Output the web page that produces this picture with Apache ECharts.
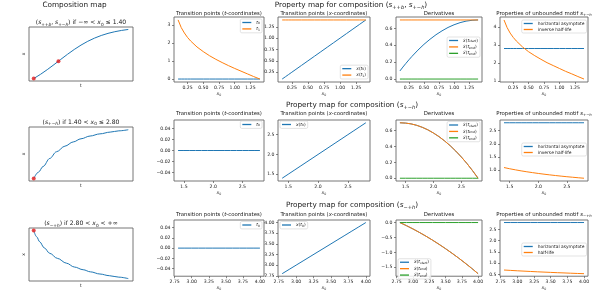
<!DOCTYPE html>
<html><head><meta charset="utf-8">
<script src="https://cdn.jsdelivr.net/npm/echarts@6/dist/echarts.min.js"></script>
<style>html,body{margin:0;padding:0;background:#fff}#c{width:598px;height:292px}</style>
</head><body><div id="c"></div>
<script>
// ---------------- DATA ----------------
// Composition map (column 1), row 1: logistic trajectory with start and inflection points
const mapT1 = [0, 0.3, 0.6, 0.9, 1.2, 1.5, 1.8, 2.1, 2.4, 2.7, 3.0, 3.3, 3.6, 3.9, 4.2];
const mapX1 = [0.700, 0.869, 1.058, 1.261, 1.471, 1.677, 1.872, 2.048, 2.201, 2.330, 2.436, 2.521, 2.588, 2.640, 2.679];
const mapDotsT1 = [0, 1.099];
const mapDotsX1 = [0.700, 1.400];
// row 2 (normalised)
const mapT2 = [0, 0.05, 0.099, 0.17, 0.241, 0.33, 0.418, 0.5, 0.596, 0.7, 0.809, 0.9, 1.0];
const mapX2 = [0, 0.13, 0.246, 0.41, 0.546, 0.66, 0.746, 0.81, 0.866, 0.91, 0.946, 0.972, 0.994];
const mapDotsT2 = [0];
const mapDotsX2 = [0];
// row 3 (normalised)
const mapT3 = [0, 0.03, 0.064, 0.11, 0.17, 0.25, 0.346, 0.43, 0.523, 0.6, 0.7, 0.8, 0.9, 1.0];
const mapX3 = [1, 0.87, 0.762, 0.64, 0.524, 0.42, 0.32, 0.24, 0.184, 0.14, 0.095, 0.06, 0.03, 0];
const mapDotsT3 = [0];
const mapDotsX3 = [1];

// Row 1 : x0 in (−∞, 1.40]
const x0Row1 = [0.10,0.15,0.20,0.25,0.30,0.40,0.50,0.60,0.70,0.80,0.90,1.00,1.10,1.20,1.30,1.40];
const t0Row1 = [0,0,0,0,0,0,0,0,0,0,0,0,0,0,0,0];
const t1Row1 = [3.30,2.87,2.57,2.32,2.12,1.79,1.53,1.30,1.10,0.92,0.75,0.59,0.44,0.29,0.14,0.00];
const xt0Row1 = [0.10,0.15,0.20,0.25,0.30,0.40,0.50,0.60,0.70,0.80,0.90,1.00,1.10,1.20,1.30,1.40];
const xt1Row1 = [1.40,1.40,1.40,1.40,1.40,1.40,1.40,1.40,1.40,1.40,1.40,1.40,1.40,1.40,1.40,1.40];
const dStartRow1 = [0.096,0.142,0.186,0.228,0.268,0.343,0.411,0.471,0.525,0.571,0.611,0.643,0.668,0.686,0.696,0.700];
const dEndRow1 = [0.70,0.70,0.70,0.70,0.70,0.70,0.70,0.70,0.70,0.70,0.70,0.70,0.70,0.70,0.70,0.70];
const ddEndRow1 = [0,0,0,0,0,0,0,0,0,0,0,0,0,0,0,0];
const asymRow1 = [2.8,2.8,2.8,2.8,2.8,2.8,2.8,2.8,2.8,2.8,2.8,2.8,2.8,2.8,2.8,2.8];
const invHalfRow1 = [4.39,3.97,3.66,3.42,3.22,2.89,2.62,2.40,2.20,2.01,1.85,1.69,1.53,1.39,1.24,1.10];

// Row 2 : x0 in (1.40, 2.80]
const x0Row2 = [1.40,1.50,1.60,1.70,1.80,1.90,2.00,2.10,2.20,2.30,2.40,2.50,2.60,2.70,2.80];
const t0Row2 = [0,0,0,0,0,0,0,0,0,0,0,0,0,0,0];
const xt0Row2 = [1.40,1.50,1.60,1.70,1.80,1.90,2.00,2.10,2.20,2.30,2.40,2.50,2.60,2.70,2.80];
const dStartRow2 = [0.700,0.696,0.686,0.668,0.643,0.611,0.571,0.525,0.471,0.411,0.343,0.268,0.186,0.096,0.000];
const dEndRow2 = [0.700,0.696,0.686,0.668,0.643,0.611,0.571,0.525,0.471,0.411,0.343,0.268,0.186,0.096,0.000];
const ddEndRow2 = [0,0,0,0,0,0,0,0,0,0,0,0,0,0,0];
const asymRow2 = [2.8,2.8,2.8,2.8,2.8,2.8,2.8,2.8,2.8,2.8,2.8,2.8,2.8,2.8,2.8];
const invHalfRow2 = [1.099,1.053,1.012,0.973,0.938,0.906,0.875,0.847,0.821,0.796,0.773,0.751,0.731,0.711,0.693];

// Row 3 : x0 in (2.80, +∞)
const x0Row3 = [2.80,2.90,3.00,3.10,3.20,3.30,3.40,3.50,3.60,3.70,3.80,3.90,4.00];
const t0Row3 = [0,0,0,0,0,0,0,0,0,0,0,0,0];
const xt0Row3 = [2.80,2.90,3.00,3.10,3.20,3.30,3.40,3.50,3.60,3.70,3.80,3.90,4.00];
const dStartRow3 = [0.000,-0.104,-0.214,-0.332,-0.457,-0.589,-0.729,-0.875,-1.029,-1.189,-1.357,-1.532,-1.714];
const dEndRow3 = [0.000,-0.104,-0.214,-0.332,-0.457,-0.589,-0.729,-0.875,-1.029,-1.189,-1.357,-1.532,-1.714];
const ddEndRow3 = [0,0,0,0,0,0,0,0,0,0,0,0,0];
const asymRow3 = [2.8,2.8,2.8,2.8,2.8,2.8,2.8,2.8,2.8,2.8,2.8,2.8,2.8];
const halfRow3 = [0.693,0.676,0.659,0.644,0.629,0.614,0.601,0.588,0.575,0.564,0.552,0.541,0.531];

// tick values
const xTicksRow1 = [0.25,0.50,0.75,1.00,1.25];
const xTicksRow2 = [1.5,2.0,2.5];
const xTicksRow3 = [2.75,3.00,3.25,3.50,3.75,4.00];
const yTicksTRow1 = [0,1,2,3];
const yTicksXRow1 = [0.25,0.50,0.75,1.00,1.25];
const yTicksDRow1 = [0.0,0.2,0.4,0.6];
const yTicksPRow1 = [1,2,3,4];
const yTicksZero = [-0.04,-0.02,0.00,0.02,0.04];
const yTicksXRow2 = [1.5,2.0,2.5];
const yTicksDRow2 = [0.0,0.2,0.4,0.6];
const yTicksPRow2 = [1.0,1.5,2.0,2.5];
const yTicksXRow3 = [2.75,3.00,3.25,3.50,3.75,4.00];
const yTicksDRow3 = [-1.5,-1.0,-0.5,0.0];
const yTicksPRow3 = [0.5,1.0,1.5,2.0,2.5];

// ---------------- STYLE / LAYOUT ----------------
const FONT = 'DejaVu Sans';
const BLUE = '#1f77b4', ORANGE = '#ff7f0e', GREEN = '#2ca02c';
const TXT = '#1a1a1a';
function rich(f, lh) {
  const L = f * (lh || 1.25);
  return {
    n: {fontFamily: FONT, fontSize: f, color: TXT, lineHeight: L},
    i: {fontFamily: FONT, fontSize: f, fontStyle: 'italic', color: TXT, lineHeight: L},
    s: {fontFamily: FONT, fontSize: f * 0.7, color: TXT, lineHeight: L, verticalAlign: 'bottom'},
    si: {fontFamily: FONT, fontSize: f * 0.7, fontStyle: 'italic', color: TXT, lineHeight: L, verticalAlign: 'bottom'}
  };
}
const N = t => `{n|${t}}`, I = t => `{i|${t}}`, S = t => `{s|${t}}`, SI = t => `{si|${t}}`;
const fmt = (v, d) => v.toFixed(d).replace('-', '\u2212');

const grids = [
  {left: 29, top: 27, width: 104, height: 54},
  {left: 174, top: 17, width: 90, height: 65},
  {left: 278, top: 17, width: 92, height: 65},
  {left: 396, top: 17, width: 86, height: 65},
  {left: 500, top: 17, width: 88, height: 65},
  {left: 29, top: 127, width: 104, height: 54},
  {left: 174, top: 120, width: 90, height: 61},
  {left: 278, top: 120, width: 92, height: 61},
  {left: 396, top: 120, width: 86, height: 61},
  {left: 500, top: 120, width: 88, height: 61},
  {left: 29, top: 228, width: 104, height: 53},
  {left: 174, top: 220, width: 90, height: 61},
  {left: 278, top: 220, width: 92, height: 61},
  {left: 396, top: 220, width: 86, height: 61},
  {left: 500, top: 220, width: 88, height: 61}
].map(g => Object.assign({show: true, borderColor: '#666', borderWidth: 0.9, backgroundColor: 'transparent', containLabel: false}, g));

const X0NAME = I('x') + S('0');
function axX(gi, min, max, ticks, dec, name) {
  return {
    type: 'value', gridIndex: gi, min, max, position: 'bottom',
    axisLine: {show: false, onZero: false}, splitLine: {show: false},
    axisTick: {show: !!ticks, length: 2, customValues: ticks || [], lineStyle: {color: '#555', width: 0.7}},
    axisLabel: {show: !!ticks, customValues: ticks || [], formatter: v => fmt(v, dec), fontSize: 4.6, fontFamily: FONT, color: '#222', margin: 3.5},
    name: name, nameLocation: 'middle', nameGap: ticks ? 7.5 : 2.5,
    nameTextStyle: {fontSize: 4.6, fontFamily: FONT, color: TXT, rich: rich(4.6), verticalAlign: 'top'}
  };
}
function axY(gi, min, max, ticks, dec, name) {
  return {
    type: 'value', gridIndex: gi, min, max, position: 'left',
    axisLine: {show: false, onZero: false}, splitLine: {show: false},
    axisTick: {show: !!ticks, length: 2, customValues: ticks || [], lineStyle: {color: '#555', width: 0.7}},
    axisLabel: {show: !!ticks, customValues: ticks || [], formatter: v => fmt(v, dec), fontSize: 4.6, fontFamily: FONT, color: '#222', margin: 3.5},
    name: name || '', nameLocation: 'middle', nameGap: 3, nameRotate: 90,
    nameTextStyle: {fontSize: 4.6, fontFamily: FONT, color: TXT}
  };
}

const xAxes = [
  axX(0, -0.21, 4.41, null, 0, 't'),
  axX(1, 0.035, 1.465, xTicksRow1, 2, X0NAME),
  axX(2, 0.035, 1.465, xTicksRow1, 2, X0NAME),
  axX(3, 0.035, 1.465, xTicksRow1, 2, X0NAME),
  axX(4, 0.035, 1.465, xTicksRow1, 2, X0NAME),
  axX(5, -0.05, 1.05, null, 0, 't'),
  axX(6, 1.33, 2.87, xTicksRow2, 1, X0NAME),
  axX(7, 1.33, 2.87, xTicksRow2, 1, X0NAME),
  axX(8, 1.33, 2.87, xTicksRow2, 1, X0NAME),
  axX(9, 1.33, 2.87, xTicksRow2, 1, X0NAME),
  axX(10, -0.05, 1.05, null, 0, 't'),
  axX(11, 2.74, 4.06, xTicksRow3, 2, X0NAME),
  axX(12, 2.74, 4.06, xTicksRow3, 2, X0NAME),
  axX(13, 2.74, 4.06, xTicksRow3, 2, X0NAME),
  axX(14, 2.74, 4.06, xTicksRow3, 2, X0NAME)
];
const yAxes = [
  axY(0, 0.601, 2.778, null, 0, 'x'),
  axY(1, -0.165, 3.461, yTicksTRow1, 0),
  axY(2, 0.035, 1.465, yTicksXRow1, 2),
  axY(3, -0.035, 0.735, yTicksDRow1, 1),
  axY(4, 0.935, 4.555, yTicksPRow1, 0),
  axY(5, -0.05, 1.05, null, 0, 'x'),
  axY(6, -0.055, 0.055, yTicksZero, 2),
  axY(7, 1.33, 2.87, yTicksXRow2, 1),
  axY(8, -0.035, 0.735, yTicksDRow2, 1),
  axY(9, 0.588, 2.905, yTicksPRow2, 1),
  axY(10, -0.05, 1.05, null, 0, 'x'),
  axY(11, -0.055, 0.055, yTicksZero, 2),
  axY(12, 2.74, 4.06, yTicksXRow3, 2),
  axY(13, -1.80, 0.0857, yTicksDRow3, 1),
  axY(14, 0.418, 2.913, yTicksPRow3, 1)
];

const zip = (a, b) => a.map((v, k) => [v, b[k]]);
function line(gi, name, xs, ys, color) {
  return {type: 'line', name, xAxisIndex: gi, yAxisIndex: gi, data: zip(xs, ys), symbol: 'none', showSymbol: false,
    lineStyle: {color, width: 1}, itemStyle: {color}, animation: false, silent: true, z: 3};
}
function smoothLine(gi, name, xs, ys, color) {
  const s = line(gi, name, xs, ys, color); s.smooth = 0.35; s.smoothMonotone = 'x'; return s;
}
function dots(gi, xs, ys) {
  return {type: 'scatter', xAxisIndex: gi, yAxisIndex: gi, data: zip(xs, ys), symbolSize: 4,
    itemStyle: {color: '#e41a1c'}, animation: false, silent: true, z: 5};
}

const series = [
  line(0, 'map1', mapT1, mapX1, BLUE), dots(0, mapDotsT1, mapDotsX1),
  line(1, 'r1t0', x0Row1, t0Row1, BLUE), line(1, 'r1t1', x0Row1, t1Row1, ORANGE),
  line(2, 'r1xt0', x0Row1, xt0Row1, BLUE), line(2, 'r1xt1', x0Row1, xt1Row1, ORANGE),
  line(3, 'r1ds', x0Row1, dStartRow1, BLUE), line(3, 'r1de', x0Row1, dEndRow1, ORANGE), line(3, 'r1dde', x0Row1, ddEndRow1, GREEN),
  line(4, 'r1asym', x0Row1, asymRow1, BLUE), line(4, 'r1inv', x0Row1, invHalfRow1, ORANGE),
  smoothLine(5, 'map2', mapT2, mapX2, BLUE), dots(5, mapDotsT2, mapDotsX2),
  line(6, 'r2t0', x0Row2, t0Row2, BLUE),
  line(7, 'r2xt0', x0Row2, xt0Row2, BLUE),
  line(8, 'r2ds', x0Row2, dStartRow2, BLUE), line(8, 'r2de', x0Row2, dEndRow2, ORANGE), line(8, 'r2dde', x0Row2, ddEndRow2, GREEN),
  line(9, 'r2asym', x0Row2, asymRow2, BLUE), line(9, 'r2inv', x0Row2, invHalfRow2, ORANGE),
  smoothLine(10, 'map3', mapT3, mapX3, BLUE), dots(10, mapDotsT3, mapDotsX3),
  line(11, 'r3t0', x0Row3, t0Row3, BLUE),
  line(12, 'r3xt0', x0Row3, xt0Row3, BLUE),
  line(13, 'r3ds', x0Row3, dStartRow3, BLUE), line(13, 'r3de', x0Row3, dEndRow3, ORANGE), line(13, 'r3dde', x0Row3, ddEndRow3, GREEN),
  line(14, 'r3asym', x0Row3, asymRow3, BLUE), line(14, 'r3half', x0Row3, halfRow3, ORANGE)
];

const XD = I('x\u0307'), XDD = I('x\u0308');
const LABELS = {
  r1t0: I('t') + S('0'), r1t1: I('t') + S('1'),
  r1xt0: I('x') + N('(') + I('t') + S('0') + N(')'), r1xt1: I('x') + N('(') + I('t') + S('1') + N(')'),
  r1ds: XD + N('(') + I('t') + SI('start') + N(')'), r1de: XD + N('(') + I('t') + SI('end') + N(')'), r1dde: XDD + N('(') + I('t') + SI('end') + N(')'),
  r1asym: N('horizontal asymptote'), r1inv: N('inverse half-life'),
  r2t0: I('t') + S('0'), r2xt0: I('x') + N('(') + I('t') + S('0') + N(')'),
  r2ds: XD + N('(') + I('t') + SI('start') + N(')'), r2de: XD + N('(') + I('t') + SI('end') + N(')'), r2dde: XDD + N('(') + I('t') + SI('end') + N(')'),
  r2asym: N('horizontal asymptote'), r2inv: N('inverse half-life'),
  r3t0: I('t') + S('0'), r3xt0: I('x') + N('(') + I('t') + S('0') + N(')'),
  r3ds: XD + N('(') + I('t') + SI('start') + N(')'), r3de: XD + N('(') + I('t') + SI('end') + N(')'), r3dde: XDD + N('(') + I('t') + SI('end') + N(')'),
  r3asym: N('horizontal asymptote'), r3half: N('half-life')
};
function legend(names, pos) {
  return Object.assign({
    orient: 'vertical', data: names, icon: 'rect', itemWidth: 9, itemHeight: 1.3, itemGap: 2,
    padding: [1.5, 2, 1.5, 2], backgroundColor: 'rgba(255,255,255,0.85)', borderColor: '#d0d0d0', borderWidth: 0.6, borderRadius: 1.5,
    selectedMode: false, formatter: n => LABELS[n],
    textStyle: {fontSize: 4.4, fontFamily: FONT, color: TXT, rich: rich(4.4, 1.1)}
  }, pos);
}
const legends = [
  legend(['r1t0', 'r1t1'], {right: 598 - 262, top: 19}),
  legend(['r1xt0', 'r1xt1'], {right: 598 - 368, bottom: 292 - 79}),
  legend(['r1ds', 'r1de', 'r1dde'], {right: 598 - 480, top: 37}),
  legend(['r1asym', 'r1inv'], {right: 598 - 586.5, top: 20}),
  legend(['r2t0'], {right: 598 - 262, top: 121}),
  legend(['r2xt0'], {left: 280, top: 121}),
  legend(['r2ds', 'r2de', 'r2dde'], {right: 598 - 480, top: 121.5}),
  legend(['r2asym', 'r2inv'], {right: 598 - 586.5, top: 143}),
  legend(['r3t0'], {right: 598 - 262, top: 221.5}),
  legend(['r3xt0'], {left: 280, top: 221.5}),
  legend(['r3ds', 'r3de', 'r3dde'], {left: 398, bottom: 292 - 279}),
  legend(['r3asym', 'r3half'], {right: 598 - 586.5, top: 243})
];

function title(text, cx, cy, f) {
  return {text, left: cx, top: cy - f * 0.625, textAlign: 'center', padding: 0,
    textStyle: {fontSize: f, fontFamily: FONT, color: TXT, fontWeight: 'normal', rich: rich(f)}};
}
const SUP = 7.3, SUB = 5.4, MAPF = 6.1;
const sPPb = I('s') + S('++') + SI('b'), sPMh = I('s') + S('+\u2212') + SI('h'), sMPh = I('s') + S('\u2212+') + SI('h');
const T_T = N('Transition points (') + I('t') + N('-coordinates)');
const T_X = N('Transition points (') + I('x') + N('-coordinates)');
const T_D = N('Derivatives');
const titles = [
  title(N('Composition map'), 74.5, 5.5, SUP),
  title(N('Property map for composition (') + sPPb + N(', ') + sPMh + N(')'), 351, 5.5, SUP),
  title(N('Property map for composition (') + sPMh + N(')'), 352, 105.5, SUP),
  title(N('Property map for composition (') + sMPh + N(')'), 352, 205.5, SUP),
  title(N('(') + sPPb + N(', ') + sPMh + N(') if \u2212\u221e < ') + I('x') + S('0') + N(' \u2264 1.40'), 81, 22.7, MAPF),
  title(N('(') + sPMh + N(') if 1.40 < ') + I('x') + S('0') + N(' \u2264 2.80'), 81, 122.3, MAPF),
  title(N('(') + sMPh + N(') if 2.80 < ') + I('x') + S('0') + N(' < +\u221e'), 81, 223.7, MAPF),
  title(T_T, 219, 13.3, SUB), title(T_X, 324, 13.3, SUB), title(T_D, 439, 13.3, SUB),
  title(N('Properties of unbounded motif ') + sPMh, 544, 13.3, SUB),
  title(T_T, 219, 114, SUB), title(T_X, 324, 114, SUB), title(T_D, 439, 114, SUB),
  title(N('Properties of unbounded motif ') + sPMh, 544, 114, SUB),
  title(T_T, 219, 214.3, SUB), title(T_X, 324, 214.3, SUB), title(T_D, 439, 214.3, SUB),
  title(N('Properties of unbounded motif ') + sMPh, 544, 214.3, SUB)
];

const chart = echarts.init(document.getElementById('c'), null, {renderer: 'canvas'});
chart.setOption({
  animation: false, backgroundColor: '#fff',
  title: titles, grid: grids, xAxis: xAxes, yAxis: yAxes, legend: legends, series
});
</script></body></html>
